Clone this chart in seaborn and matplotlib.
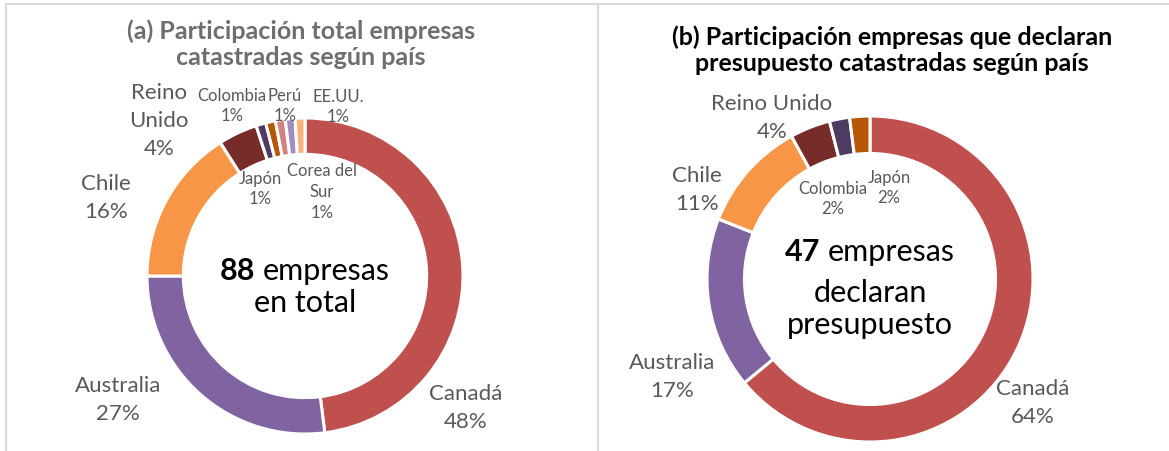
"""Donut charts: participación de empresas catastradas según país."""
import numpy as np
import pandas as pd
import matplotlib
matplotlib.use("Agg")
import matplotlib.pyplot as plt
import seaborn as sns
from matplotlib.patches import Rectangle

sns.set_theme(style="white")
plt.rcParams['font.family'] = ['Lato', 'DejaVu Sans']

W, H = 1169, 452

# ---- data -------------------------------------------------------------
paises_a = ["Canadá", "Australia", "Chile", "Reino Unido", "Colombia",
            "Japón", "Perú", "Corea del Sur", "EE.UU."]
pct_a = [48, 27, 16, 4, 1, 1, 1, 1, 1]
total_a = 88

paises_b = ["Canadá", "Australia", "Chile", "Reino Unido", "Colombia", "Japón"]
pct_b = [64, 17, 11, 4, 2, 2]
total_b = 47

colores = ["#C0504D", "#8064A2", "#F79646", "#772C2A", "#4D3B62",
           "#B65708", "#D4817F", "#A18DC2", "#F9B27A"]
palette = sns.color_palette(colores)

df_a = pd.DataFrame({"pais": paises_a, "pct": pct_a})
df_b = pd.DataFrame({"pais": paises_b, "pct": pct_b})

LABEL = "#595959"
BIG = 16
SMALL = 12


def fx(x):
    return x / W


def fy(y):
    return 1 - y / H


def donut(fig, df, cx, cy, r, width):
    ax = fig.add_axes([fx(cx - r), fy(cy + r), 2 * r / W, 2 * r / H])
    ax.pie(df["pct"], colors=palette[:len(df)], startangle=90,
           counterclock=False, radius=1,
           wedgeprops=dict(width=width, edgecolor="white", linewidth=2.2))
    ax.set_xlim(-1, 1)
    ax.set_ylim(-1, 1)
    ax.set_aspect("equal")
    ax.axis("off")
    return ax


def label(fig, x, y, s, size=BIG, color=LABEL, linespacing=1.5, **kw):
    fig.text(fx(x), fy(y), s, ha="center", va="center", fontsize=size,
             color=color, linespacing=linespacing, **kw)


def small(fig, x, y, s):
    label(fig, x, y, s, size=SMALL, linespacing=1.35)


def mixed_line(fig, x, y, bold, rest, size):
    renderer = fig.canvas.get_renderer()
    t1 = fig.text(0, 0, bold, fontsize=size, weight="bold", color="black",
                  ha="left", va="center")
    t2 = fig.text(0, 0, rest, fontsize=size, color="black",
                  ha="left", va="center")
    w1 = t1.get_window_extent(renderer).width
    w2 = t2.get_window_extent(renderer).width
    gap = size * 100 / 72 * 0.25
    x0 = x - (w1 + gap + w2) / 2
    t1.set_position((fx(x0), fy(y)))
    t2.set_position((fx(x0 + w1 + gap), fy(y)))


fig = plt.figure(figsize=(W / 100, H / 100), dpi=100)
fig.patch.set_facecolor("white")

# panel frames
for x0, x1 in [(6, 598), (598, 1175)]:
    fig.patches.append(Rectangle((fx(x0), fy(H + 5)), (x1 - x0) / W, 1,
                                 transform=fig.transFigure,
                                 fill=False, edgecolor="#D9D9D9",
                                 linewidth=1.5))

# ---- (a) ---------------------------------------------------------------
donut(fig, df_a, 305, 277, 158, 0.23)
label(fig, 301, 44, "(a) Participación total empresas\ncatastradas según país",
      size=18, color="#6E6E6E", weight="bold", linespacing=1.15)
label(fig, 466, 408, "Canadá\n48%")
label(fig, 118, 400, "Australia\n27%")
label(fig, 106, 198, "Chile\n16%")
label(fig, 159, 121, "Reino\nUnido\n4%")
small(fig, 232, 106, "Colombia\n1%")
small(fig, 285, 106, "Perú\n1%")
small(fig, 338, 107, "EE.UU.\n1%")
small(fig, 260, 189, "Japón\n1%")
small(fig, 322, 192, "Corea del\nSur\n1%")
mixed_line(fig, 305, 271, str(total_a), "empresas", 22)
label(fig, 305, 303, "en total", size=22, color="black")

# ---- (b) ---------------------------------------------------------------
donut(fig, df_b, 870, 280, 163, 0.23)
label(fig, 892, 50,
      "(b) Participación empresas que declaran\npresupuesto catastradas según país",
      size=18, color="black", weight="bold", linespacing=1.15)
label(fig, 1033, 403, "Canadá\n64%")
label(fig, 672, 377, "Australia\n17%")
label(fig, 697, 190, "Chile\n11%")
label(fig, 772, 118, "Reino Unido\n4%")
small(fig, 833, 199, "Colombia\n2%")
small(fig, 889, 188, "Japón\n2%")
mixed_line(fig, 870, 252, str(total_b), "empresas", 22)
label(fig, 870, 309, "declaran\npresupuesto", size=22, color="black",
      linespacing=1.2)

fig.savefig("out.png", dpi=100, facecolor="white")
